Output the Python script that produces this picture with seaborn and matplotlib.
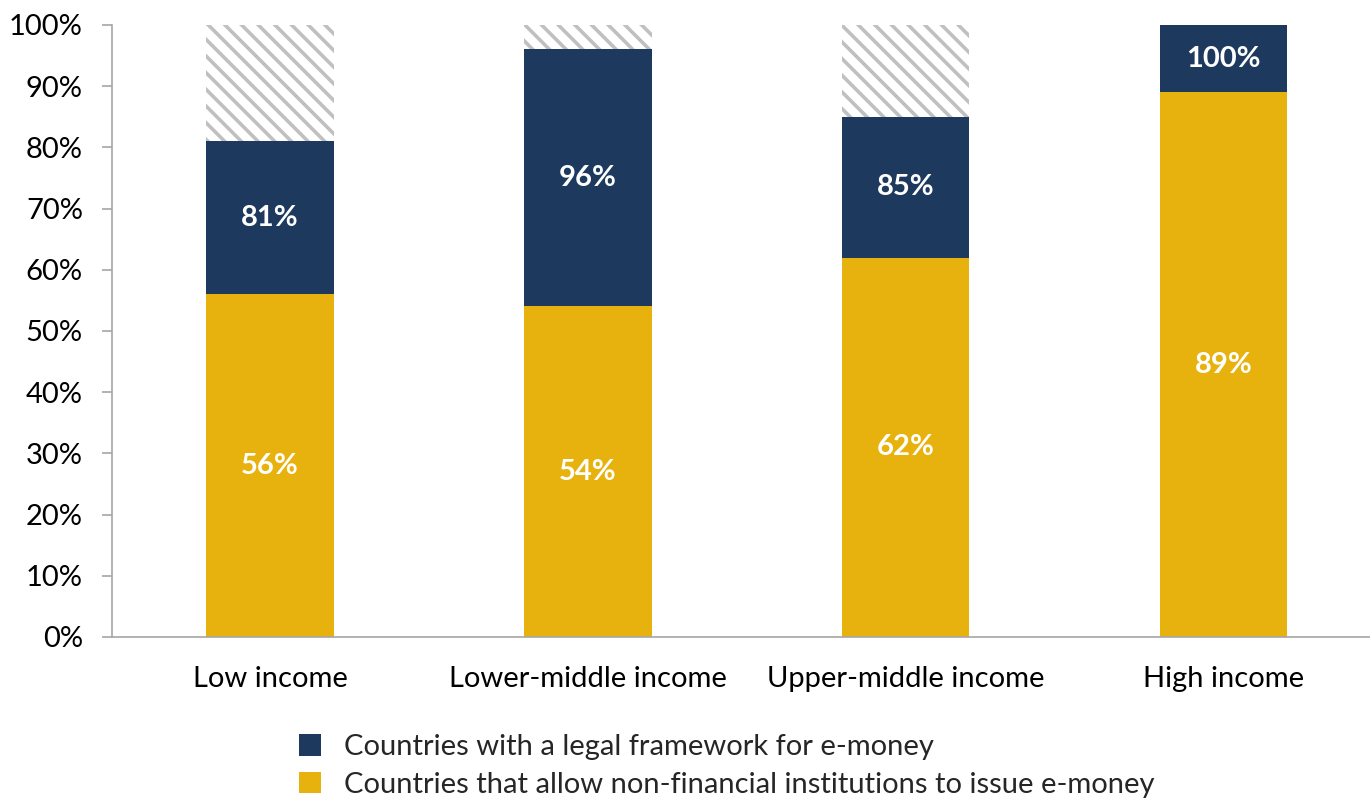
import matplotlib
matplotlib.use("Agg")
import matplotlib.pyplot as plt
from matplotlib.patches import Patch
from matplotlib.ticker import FuncFormatter
import seaborn as sns
import pandas as pd

categories = ["Low income", "Lower-middle income", "Upper-middle income", "High income"]
legal_framework = [81, 96, 85, 100]
non_financial = [56, 54, 62, 89]
all_countries = [100, 100, 100, 100]

NAVY = "#1d3a5e"
GOLD = "#e8b20e"
HATCH_GREY = "#c0c0c0"
AXIS_GREY = "#a6a6a6"
FS = 21

sns.set_theme(style="white")
plt.rcParams["font.family"] = ["Lato", "DejaVu Sans"]
plt.rcParams["hatch.linewidth"] = 2.6

df = pd.DataFrame({
    "category": categories,
    "legal": legal_framework,
    "nonfin": non_financial,
    "total": all_countries,
})

fig = plt.figure(figsize=(13.7, 7.98), dpi=100)
ax = fig.add_axes([0.0818, 0.2018, 0.9182, 0.7669])

bar_w = 0.4
# hatched remainder up to 100%
sns.barplot(data=df, x="category", y="total", color="white", width=bar_w,
            saturation=1, ax=ax, hatch="\\\\", edgecolor=HATCH_GREY,
            linewidth=0)
# countries with a legal framework (total height)
sns.barplot(data=df, x="category", y="legal", color=NAVY, width=bar_w,
            saturation=1, ax=ax, linewidth=0)
# countries allowing non-financial issuers
sns.barplot(data=df, x="category", y="nonfin", color=GOLD, width=bar_w,
            saturation=1, ax=ax, linewidth=0)

for i, (lg, nf) in enumerate(zip(legal_framework, non_financial)):
    ax.text(i, (lg + nf) / 2, f"{lg}%", ha="center", va="center",
            color="white", fontsize=FS, fontweight="bold")
    ax.text(i, nf / 2, f"{nf}%", ha="center", va="center",
            color="white", fontsize=FS, fontweight="bold")

ax.set_ylim(0, 100)
ax.set_xlim(-0.497, 3.46)
ax.set_yticks(range(0, 101, 10))
ax.yaxis.set_major_formatter(FuncFormatter(lambda v, _: f"{v:.0f}%"))
ax.set_xlabel("")
ax.set_ylabel("")

for side in ["top", "right"]:
    ax.spines[side].set_visible(False)
for side in ["left", "bottom"]:
    ax.spines[side].set_color(AXIS_GREY)
    ax.spines[side].set_linewidth(1.2)

ax.tick_params(axis="y", which="major", left=True, length=7, width=1.2,
               color=AXIS_GREY, labelsize=FS, labelcolor="black", pad=14)
ax.tick_params(axis="x", which="major", bottom=False, length=0,
               labelsize=FS, labelcolor="black", pad=21)

handles = [Patch(facecolor=NAVY, edgecolor="none"),
           Patch(facecolor=GOLD, edgecolor="none")]
labels = ["Countries with a legal framework for e-money",
          "Countries that allow non-financial institutions to issue e-money"]
fig.legend(handles, labels, loc="upper left", bbox_to_anchor=(0.218, 0.080),
           frameon=False, fontsize=FS, handlelength=0.76, handleheight=0.76,
           handletextpad=0.8, labelspacing=0.39, borderaxespad=0, borderpad=0)

fig.savefig("out.png", dpi=100)
